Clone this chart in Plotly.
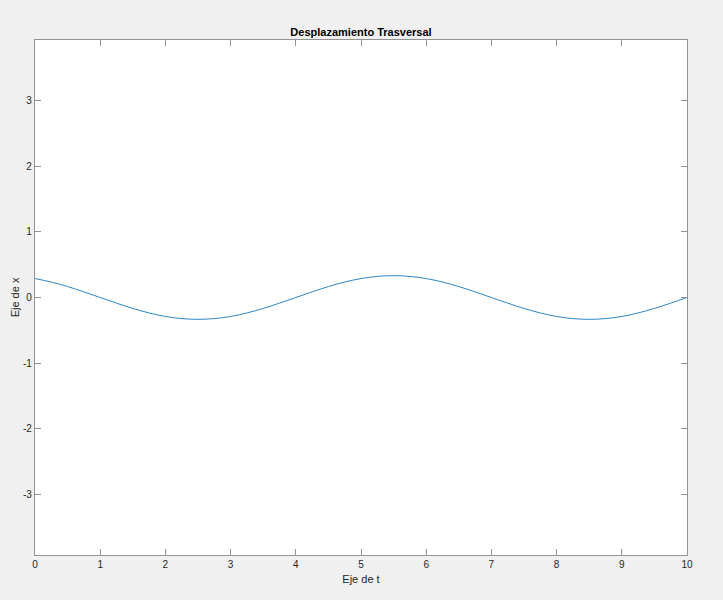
"""Desplazamiento trasversal vs tiempo."""

import plotly.graph_objects as go

# values
t = [0, 0.25, 0.5, 0.75, 1, 1.25, 1.5, 1.75, 2, 2.25, 2.5, 2.75, 3, 3.25,
     3.5, 3.75, 4, 4.25, 4.5, 4.75, 5, 5.25, 5.5, 5.75, 6, 6.25, 6.5, 6.75,
     7, 7.25, 7.5, 7.75, 8, 8.25, 8.5, 8.75, 9, 9.25, 9.5, 9.75, 10]
x = [0.289, 0.236, 0.167, 0.086, 0.0, -0.086, -0.167, -0.236, -0.289,
     -0.322, -0.333, -0.322, -0.289, -0.236, -0.167, -0.086, 0.0, 0.086,
     0.167, 0.236, 0.289, 0.322, 0.333, 0.322, 0.289, 0.236, 0.167, 0.086,
     0.0, -0.086, -0.167, -0.236, -0.289, -0.322, -0.333, -0.322, -0.289,
     -0.236, -0.167, -0.086, 0.0]

x_ticks = list(range(0, 11))
y_ticks = [-3, -2, -1, 0, 1, 2, 3]

AXIS_GRAY = '#939393'
FONT = 'Liberation Sans, Arial, sans-serif'

fig = go.Figure()
fig.add_trace(
    go.Scatter(
        x=t,
        y=x,
        mode='lines',
        line=dict(color='#2a86c8', width=1, shape='spline'),
        showlegend=False,
    )
)

axis_common = dict(
    showline=True,
    linecolor=AXIS_GRAY,
    linewidth=1.2,
    mirror='ticks',
    ticks='inside',
    ticklen=6,
    tickwidth=1,
    tickcolor=AXIS_GRAY,
    showgrid=False,
    zeroline=False,
    automargin=False,
    tickfont=dict(family=FONT, size=10, color='#262626'),
)

fig.update_layout(
    width=723,
    height=600,
    paper_bgcolor='#f0f0f0',
    plot_bgcolor='white',
    margin=dict(l=35, r=36, t=40, b=45),
    font=dict(family=FONT, color='#262626'),
    title=dict(
        text='<b>Desplazamiento Trasversal</b>',
        font=dict(size=11, color='black'),
        x=0.4993, xanchor='center',
        y=1 - 32 / 600, yanchor='middle',
        automargin=False,
    ),
    xaxis=dict(
        axis_common,
        range=[0, 10],
        tickvals=x_ticks,
        ticktext=[str(v) for v in x_ticks],
        title=dict(text='Eje de t', font=dict(size=11), standoff=6),
    ),
    yaxis=dict(
        axis_common,
        range=[-3.93, 3.93],
        tickvals=y_ticks,
        ticktext=[str(v) for v in y_ticks],
        title=dict(text='Eje de x', font=dict(size=11), standoff=1),
    ),
)

fig.write_html('out.html', config={'displayModeBar': False},
               post_script="document.body.style.margin='0';")
